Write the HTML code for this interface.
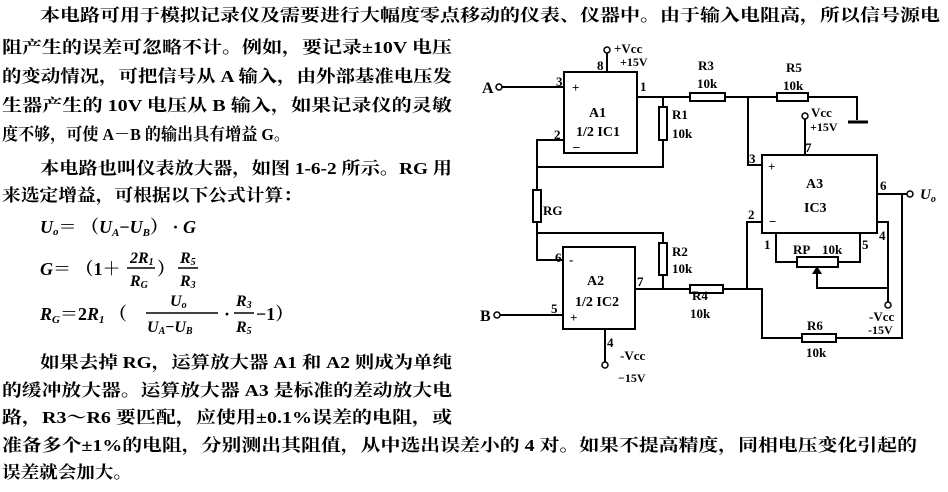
<!DOCTYPE html>
<html><head><meta charset="utf-8"><style>
html,body{margin:0;padding:0;background:#fff;}
svg{display:block}
.t{font-family:"Liberation Serif","Noto Serif CJK SC",serif;font-size:17px;font-weight:bold;fill:#000}
.m{font-family:"Liberation Serif","Noto Serif CJK SC",serif;font-size:18px;font-style:italic;font-weight:bold;fill:#000}
.s{font-family:"Liberation Serif",serif;font-weight:bold;fill:#000}
</style></head><body>
<svg width="948" height="492" viewBox="0 0 948 492" xmlns="http://www.w3.org/2000/svg">
<g class="t">
<text x="40" y="21" textLength="900" lengthAdjust="spacingAndGlyphs">本电路可用于模拟记录仪及需要进行大幅度零点移动的仪表、仪器中。由于输入电阻高，所以信号源电</text>
<text x="2" y="53" textLength="450" lengthAdjust="spacingAndGlyphs">阻产生的误差可忽略不计。例如，要记录±10V 电压</text>
<text x="2" y="82" textLength="450" lengthAdjust="spacingAndGlyphs">的变动情况，可把信号从 A 输入，由外部基准电压发</text>
<text x="2" y="111" textLength="450" lengthAdjust="spacingAndGlyphs">生器产生的 10V 电压从 B 输入，如果记录仪的灵敏</text>
<text x="2" y="140" textLength="288" lengthAdjust="spacingAndGlyphs">度不够，可使 A－B 的输出具有增益 G。</text>
<text x="40" y="174" textLength="412" lengthAdjust="spacingAndGlyphs">本电路也叫仪表放大器，如图 1-6-2 所示。RG 用</text>
<text x="2" y="201" textLength="300" lengthAdjust="spacingAndGlyphs">来选定增益，可根据以下公式计算：</text>
<text x="40" y="368" textLength="412" lengthAdjust="spacingAndGlyphs">如果去掉 RG，运算放大器 A1 和 A2 则成为单纯</text>
<text x="2" y="396" textLength="450" lengthAdjust="spacingAndGlyphs">的缓冲放大器。运算放大器 A3 是标准的差动放大电</text>
<text x="2" y="423" textLength="450" lengthAdjust="spacingAndGlyphs">路，R3～R6 要匹配，应使用±0.1%误差的电阻，或</text>
<text x="2" y="451" textLength="915" lengthAdjust="spacingAndGlyphs">准备多个±1%的电阻，分别测出其阻值，从中选出误差小的 4 对。如果不提高精度，同相电压变化引起的</text>
<text x="2" y="478" textLength="130" lengthAdjust="spacingAndGlyphs">误差就会加大。</text>
</g>
<g class="m">
<text x="40" y="233">U<tspan font-size="11" dy="2">o</tspan><tspan dy="-2" font-style="normal">＝ （</tspan>U<tspan font-size="11" dy="3">A</tspan><tspan dy="-3" font-style="normal">−</tspan>U<tspan font-size="11" dy="3">B</tspan><tspan dy="-3" font-style="normal">） ·</tspan> G</text>
<text x="40" y="275">G<tspan font-style="normal">＝ （1＋</tspan></text>
<text x="130" y="263" font-size="16">2R<tspan font-size="10" dy="2">1</tspan></text>
<line x1="127" y1="268" x2="155" y2="268" stroke="#000" stroke-width="1.5"/>
<text x="130" y="286" font-size="16">R<tspan font-size="10" dy="2">G</tspan></text>
<text x="157" y="275" font-style="normal">）</text>
<text x="180" y="263" font-size="16">R<tspan font-size="10" dy="2">5</tspan></text>
<line x1="178" y1="268" x2="198" y2="268" stroke="#000" stroke-width="1.5"/>
<text x="180" y="286" font-size="16">R<tspan font-size="10" dy="2">3</tspan></text>
<text x="40" y="320">R<tspan font-size="11" dy="3">G</tspan><tspan dy="-3" font-style="normal">＝2</tspan>R<tspan font-size="11" dy="3">1</tspan><tspan dy="-3" font-style="normal"> （</tspan></text>
<text x="170" y="306" font-size="16">U<tspan font-size="10" dy="2">o</tspan></text>
<line x1="146" y1="313" x2="218" y2="313" stroke="#000" stroke-width="1.5"/>
<text x="147" y="332" font-size="16">U<tspan font-size="10" dy="2">A</tspan><tspan dy="-2" font-style="normal">−</tspan>U<tspan font-size="10" dy="2">B</tspan></text>
<text x="224" y="320" font-style="normal">·</text>
<text x="236" y="306" font-size="16">R<tspan font-size="10" dy="2">3</tspan></text>
<line x1="234" y1="313" x2="254" y2="313" stroke="#000" stroke-width="1.5"/>
<text x="236" y="332" font-size="16">R<tspan font-size="10" dy="2">5</tspan></text>
<text x="256" y="320" font-style="normal">−1）</text>
</g>
<g fill="none" stroke="#000" stroke-width="2">
<rect x="564" y="72" width="73" height="81"/>
<rect x="563" y="247" width="72" height="82"/>
<rect x="762" y="155" width="115" height="78"/>
<polyline points="502,87 564,87"/>
<polyline points="607,72 607,53"/>
<polyline points="637,97 690,97"/>
<polyline points="663,97 663,107"/><polyline points="663,140 663,167 537,167"/>
<polyline points="564,140 537,140 537,190"/>
<polyline points="537,222 537,233 663,233 663,243"/>
<polyline points="563,260 537,260 537,233"/>
<polyline points="663,275 663,289"/>
<polyline points="635,289 690,289"/>
<polyline points="500,315 563,315"/>
<polyline points="605,329 605,362"/>
<polyline points="725,97 777,97"/>
<polyline points="808,97 857,97 857,120"/>
<polyline points="848,122 868,122" stroke-width="3"/>
<polyline points="748,97 748,165 762,165"/>
<polyline points="805,119 805,155"/>
<polyline points="877,194 907,194"/>
<polyline points="902,194 902,338 836,338"/>
<polyline points="802,338 762,338 762,289 723,289"/>
<polyline points="747,289 747,222 762,222"/>
<polyline points="776,233 776,262 797,262"/>
<polyline points="838,262 860,262 860,233"/>
<polyline points="817,272 817,288 888,288 888,222 877,222"/>
<polyline points="888,288 888,302"/>
</g>
<g fill="#fff" stroke="#000" stroke-width="2">
<rect x="659" y="107" width="8" height="33"/>
<rect x="533" y="190" width="8" height="32"/>
<rect x="659" y="243" width="8" height="32"/>
<rect x="690" y="93" width="35" height="8"/>
<rect x="777" y="93" width="31" height="8"/>
<rect x="690" y="285" width="33" height="8"/>
<rect x="802" y="334" width="34" height="8"/>
<rect x="797" y="257" width="41" height="10"/>
</g>
<polygon points="817,266 812,274 822,274" fill="#000"/>
<g fill="#fff" stroke="#000" stroke-width="1.5">
<circle cx="499" cy="87" r="3"/><circle cx="497" cy="315" r="3"/>
<circle cx="607" cy="50" r="3"/><circle cx="605" cy="365" r="3"/>
<circle cx="805" cy="116" r="3"/><circle cx="910" cy="194" r="3"/>
<circle cx="888" cy="305" r="3"/>
</g>
<g class="s" font-size="14">
<text x="482" y="93" font-size="16">A</text>
<text x="480" y="321" font-size="16">B</text>
<text x="589" y="117" font-size="14">A1</text>
<text x="576" y="136" font-size="14">1/2 IC1</text>
<text x="587" y="285" font-size="14">A2</text>
<text x="575" y="306" font-size="14">1/2 IC2</text>
<text x="806" y="188" font-size="14">A3</text>
<text x="804" y="212" font-size="14">IC3</text>
<text x="614" y="53" font-size="13">+Vcc</text><text x="620" y="66" font-size="12">+15V</text>
<text x="597" y="70" font-size="13">8</text>
<text x="556" y="86" font-size="13">3</text><text x="572" y="92" font-size="13">+</text>
<text x="554" y="139" font-size="13">2</text><text x="573" y="146" font-size="13">_</text>
<text x="640" y="91" font-size="13">1</text>
<text x="672" y="119" font-size="13">R1</text><text x="672" y="138" font-size="13">10k</text>
<text x="543" y="215" font-size="13">RG</text>
<text x="672" y="256" font-size="13">R2</text><text x="672" y="273" font-size="13">10k</text>
<text x="555" y="262" font-size="13">6</text><text x="569" y="264" font-size="13">-</text>
<text x="637" y="286" font-size="13">7</text>
<text x="551" y="313" font-size="13">5</text><text x="570" y="322" font-size="13">+</text>
<text x="607" y="347" font-size="13">4</text>
<text x="620" y="360" font-size="13">-Vcc</text><text x="618" y="382" font-size="12">−15V</text>
<text x="698" y="70" font-size="13">R3</text><text x="697" y="88" font-size="13">10k</text>
<text x="786" y="72" font-size="13">R5</text><text x="783" y="90" font-size="13">10k</text>
<text x="811" y="117" font-size="13">Vcc</text><text x="810" y="131" font-size="12">+15V</text>
<text x="805" y="152" font-size="13">7</text>
<text x="749" y="163" font-size="13">3</text><text x="768" y="171" font-size="13">+</text>
<text x="748" y="219" font-size="13">2</text><text x="769" y="226" font-size="13">−</text>
<text x="880" y="190" font-size="13">6</text>
<text x="879" y="240" font-size="13">4</text>
<text x="764" y="249" font-size="13">1</text>
<text x="862" y="249" font-size="13">5</text>
<text x="793" y="254" font-size="13">RP</text><text x="822" y="254" font-size="13">10k</text>
<text x="692" y="300" font-size="13">R4</text><text x="690" y="318" font-size="13">10k</text>
<text x="807" y="330" font-size="13">R6</text><text x="806" y="357" font-size="13">10k</text>
<text x="869" y="321" font-size="13">-Vcc</text><text x="868" y="334" font-size="12">-15V</text>
<text x="920" y="199" font-size="15" font-style="italic">U<tspan font-size="10" dy="3">o</tspan></text>
</g>
</svg>
</body></html>
